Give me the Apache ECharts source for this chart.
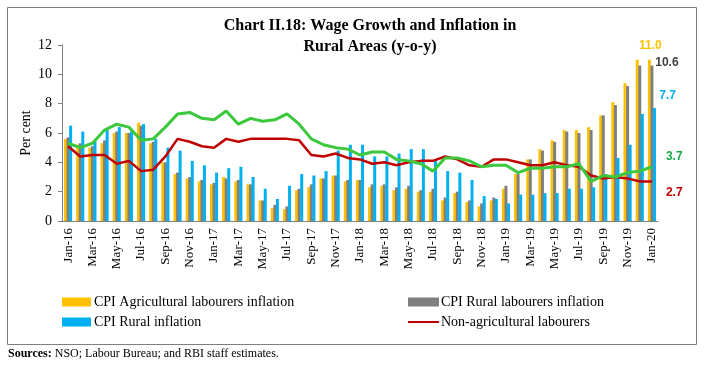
<!DOCTYPE html>
<html><head><meta charset="utf-8">
<script src="https://cdn.jsdelivr.net/npm/echarts@6/dist/echarts.min.js"></script>
<style>html,body{margin:0;padding:0;background:#fff}#c{width:705px;height:368px}</style>
</head><body><div id="c"></div>
<script>
const months = ['Jan-16','Feb-16','Mar-16','Apr-16','May-16','Jun-16','Jul-16','Aug-16','Sep-16','Oct-16','Nov-16','Dec-16',
'Jan-17','Feb-17','Mar-17','Apr-17','May-17','Jun-17','Jul-17','Aug-17','Sep-17','Oct-17','Nov-17','Dec-17',
'Jan-18','Feb-18','Mar-18','Apr-18','May-18','Jun-18','Jul-18','Aug-18','Sep-18','Oct-18','Nov-18','Dec-18',
'Jan-19','Feb-19','Mar-19','Apr-19','May-19','Jun-19','Jul-19','Aug-19','Sep-19','Oct-19','Nov-19','Dec-19','Jan-20'];

const cpiAL = [5.6,5.2,5.0,5.3,6.0,6.0,6.7,5.3,4.0,3.2,2.9,2.7,
2.5,3.0,2.7,2.5,1.4,0.9,0.8,2.1,2.3,2.9,3.1,2.7,
2.8,2.3,2.4,2.1,2.2,2.0,2.0,1.4,1.9,1.3,1.0,1.4,
2.2,3.2,4.2,4.9,5.5,6.2,6.2,6.4,7.2,8.1,9.4,11.0,11.0];

const cpiRL = [5.7,5.3,5.1,5.5,6.1,6.0,6.5,5.4,4.0,3.3,3.0,2.8,
2.6,2.9,2.8,2.5,1.4,1.1,1.0,2.2,2.5,2.9,3.1,2.8,
2.8,2.5,2.5,2.3,2.4,2.1,2.2,1.6,2.0,1.4,1.2,1.6,
2.4,3.2,4.2,4.8,5.4,6.1,6.0,6.2,7.2,7.9,9.2,10.6,10.6];

const cpiRural = [6.5,6.1,5.5,6.2,6.4,6.1,6.6,5.6,5.0,4.8,4.1,3.8,
3.3,3.6,3.7,3.0,2.2,1.5,2.4,3.2,3.1,3.4,4.8,5.2,
5.2,4.4,4.4,4.6,4.9,4.9,4.2,3.4,3.3,2.8,1.7,1.5,
1.2,1.8,1.8,1.9,1.9,2.2,2.2,2.3,3.2,4.3,5.2,7.3,7.7];

const nonAgriWage = [5.1,4.4,4.5,4.5,3.9,4.1,3.4,3.5,4.4,5.6,5.4,5.1,
5.0,5.6,5.4,5.6,5.6,5.6,5.6,5.5,4.5,4.4,4.6,4.3,
4.2,3.9,4.0,3.8,4.0,4.1,4.1,4.4,4.2,3.8,3.7,4.2,
4.2,4.0,3.8,3.8,4.0,3.8,3.7,3.1,2.9,3.0,2.9,2.7,2.7];

const agriWage = [5.3,5.0,5.3,6.2,6.6,6.4,5.5,5.6,6.4,7.3,7.4,7.0,
6.9,7.5,6.6,7.0,6.8,6.9,7.3,6.6,5.6,5.2,5.0,4.9,
4.5,4.7,4.7,4.2,4.1,3.9,3.4,4.3,4.3,4.1,3.7,3.8,
3.8,3.3,3.6,3.6,3.7,3.7,3.9,2.7,3.1,3.0,3.3,3.4,3.7];

const yMin = 0, yMax = 12, yStep = 2;

const serif = '"Liberation Serif", "Times New Roman", serif';
const sans = '"Liberation Sans", Arial, sans-serif';

function withLast(arr, labelCfg) {
  return arr.map((v, i) => i === arr.length - 1 ? {value: v, label: Object.assign({show: true, fontFamily: sans, fontWeight: 'bold', fontSize: 12}, labelCfg)} : v);
}
function endLbl(cfg) {
  return Object.assign({show: true, fontFamily: sans, fontWeight: 'bold', fontSize: 12, distance: 5}, cfg);
}

const chart = echarts.init(document.getElementById('c'), null, {renderer: 'canvas'});
chart.setOption({
  animation: false,
  backgroundColor: '#fff',
  title: {
    text: 'Chart II.18: Wage Growth and Inflation in\nRural Areas (y-o-y)',
    left: 365, top: 10, textAlign: 'center',
    textStyle: {fontFamily: serif, fontWeight: 'bold', fontSize: 16, lineHeight: 21, color: '#000'}
  },
  graphic: [
    {type: 'rect', shape: {x: 7.5, y: 7.5, width: 689, height: 337}, style: {fill: null, stroke: '#7f7f7f', lineWidth: 1}, silent: true},
    {type: 'text', left: 8, top: 348, style: {text: '{b|Sources:} NSO; Labour Bureau; and RBI staff estimates.', font: '12px ' + serif, fill: '#000',
      rich: {b: {fontWeight: 'bold', fontFamily: serif, fontSize: 12}}}}
  ],
  legend: [
    {data: [{name: 'CPI Agricultural labourers inflation', icon: 'rect'}, {name: 'CPI Rural inflation', icon: 'rect'}],
     orient: 'vertical', left: 57, top: 290,
     itemWidth: 29, itemHeight: 9, itemGap: 6, textStyle: {fontFamily: serif, fontSize: 14, color: '#000', padding: [0,0,0,-2]}},
    {data: [{name: 'CPI Rural labourers inflation', icon: 'rect'}, {name: 'Non-agricultural labourers', itemStyle: {opacity: 0}}],
     orient: 'vertical', left: 402, top: 290,
     itemWidth: 31, itemHeight: 9, itemGap: 6, textStyle: {fontFamily: serif, fontSize: 14, color: '#000', padding: [0,0,0,-3]}}
  ],
  grid: {left: 62, right: 47, top: 45, bottom: 147, containLabel: false},
  xAxis: {
    type: 'category', data: months,
    axisLine: {lineStyle: {color: '#808080'}},
    axisTick: {show: false},
    axisLabel: {rotate: 90, interval: 1, margin: 7, fontFamily: serif, fontSize: 13, color: '#000'}
  },
  yAxis: {
    type: 'value', min: yMin, max: yMax, interval: yStep,
    name: 'Per cent', nameLocation: 'middle', nameGap: 29, nameMoveOverlap: false,
    nameTextStyle: {fontFamily: serif, fontSize: 14, color: '#000'},
    axisLine: {show: true, lineStyle: {color: '#808080'}},
    axisTick: {show: true, inside: false, length: 4, lineStyle: {color: '#808080'}},
    axisLabel: {fontFamily: serif, fontSize: 14, color: '#000', margin: 10},
    splitLine: {show: false}
  },
  series: [
    {name: 'CPI Agricultural labourers inflation', type: 'bar', barWidth: 3, barGap: '-15%',
     itemStyle: {color: '#FFC000'},
     data: withLast(cpiAL, {position: 'top', distance: 8, offset: [1, 0], color: '#FFC000', formatter: '11.0'})},
    {name: 'CPI Rural labourers inflation', type: 'bar', barWidth: 3, barGap: '-15%',
     itemStyle: {color: '#7F7F7F'},
     data: withLast(cpiRL, {position: 'top', distance: 0, offset: [15, 3], color: '#404040', formatter: '10.6'})},
    {name: 'CPI Rural inflation', type: 'bar', barWidth: 3, barGap: '-15%',
     itemStyle: {color: '#00B0F0'},
     data: withLast(cpiRural, {position: 'top', distance: 0, offset: [13, -6], color: '#00B0F0', formatter: '7.7'})},
    {name: 'Non-agricultural labourers', type: 'line', symbol: 'none', showSymbol: false,
     lineStyle: {color: '#C00000', width: 2.5}, itemStyle: {color: '#C00000'},
     endLabel: endLbl({offset: [9, 11], color: '#C00000', formatter: '2.7'}),
     data: nonAgriWage},
    {name: 'Agricultural labourers', type: 'line', symbol: 'none', showSymbol: false,
     lineStyle: {color: '#3CC83C', width: 3}, itemStyle: {color: '#3CC83C'},
     endLabel: endLbl({offset: [9, -10], color: '#1BA84B', formatter: '3.7'}),
     data: agriWage}
  ]
});
</script></body></html>
